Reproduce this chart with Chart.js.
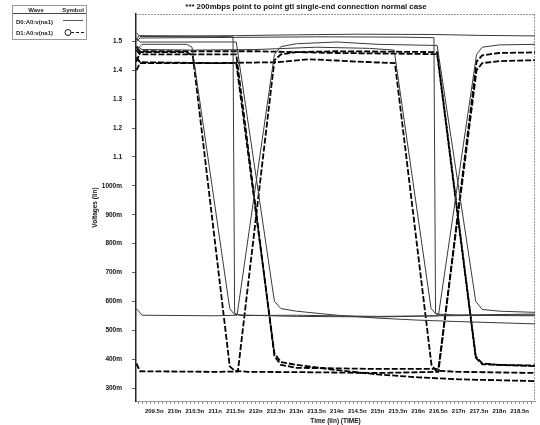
<!DOCTYPE html>
<html>
<head>
<meta charset="utf-8">
<script src="https://cdn.jsdelivr.net/npm/chart.js@4.4.1/dist/chart.umd.min.js"></script>
<style>
  html, body { margin: 0; padding: 0; background: #fff; }
  #wrap { position: relative; width: 540px; height: 425px; }
  #legend { position: absolute; left: 0; top: 0; font-family: "Liberation Sans", Arial, sans-serif; }
</style>
</head>
<body>
<div id="wrap">
  <canvas id="eye" width="540" height="425"></canvas>
  <svg id="legend" width="100" height="45">
    <rect x="12.5" y="5.5" width="74" height="34" fill="none" stroke="#999" stroke-width="1"/>
    <text x="36" y="12" font-size="6" font-weight="bold" text-anchor="middle" fill="#222">Wave</text>
    <text x="73" y="12" font-size="6" font-weight="bold" text-anchor="middle" fill="#222">Symbol</text>
    <line x1="13" y1="13.5" x2="86" y2="13.5" stroke="#444" stroke-width="1"/>
    <text x="16" y="24" font-size="6" font-weight="bold" fill="#222">D0:A0:v(na1)</text>
    <line x1="63" y1="20.5" x2="83" y2="20.5" stroke="#555" stroke-width="1"/>
    <text x="16" y="34.5" font-size="6" font-weight="bold" fill="#222">D1:A0:v(na1)</text>
    <circle cx="68" cy="32.5" r="3" fill="none" stroke="#111" stroke-width="1"/>
    <line x1="71" y1="32.5" x2="84" y2="32.5" stroke="#111" stroke-width="1" stroke-dasharray="3,2"/>
  </svg>
</div>
<script>
// eye diagram: 200mbps gtl, two overlaid runs
const chartTitle = "*** 200mbps point to point gtl single-end connection normal case";

const xTickValues = [209.5, 210, 210.5, 211, 211.5, 212, 212.5, 213, 213.5, 214, 214.5, 215, 215.5, 216, 216.5, 217, 217.5, 218, 218.5];
const xTickLabels = ["209.5n", "210n", "210.5n", "211n", "211.5n", "212n", "212.5n", "213n", "213.5n", "214n", "214.5n", "215n", "215.5n", "216n", "216.5n", "217n", "217.5n", "218n", "218.5n"];
const yTickValues = [0.3, 0.4, 0.5, 0.6, 0.7, 0.8, 0.9, 1.0, 1.1, 1.2, 1.3, 1.4, 1.5];
const yTickLabels = ["300m", "400m", "500m", "600m", "700m", "800m", "900m", "1000m", "1.1", "1.2", "1.3", "1.4", "1.5"];

// D0 traces (time ns, volts)
const d0Hold = [[209.06,1.505],[209.12,1.52],[210.5,1.519],[211.5,1.52],[213,1.523],[214.5,1.525],[216.4,1.524],[217.5,1.521],[218.88,1.519]];
const d0DropT1 = [[209.06,1.53],[209.15,1.517],[211.0,1.518],[211.44,1.516],[211.48,0.56],[211.6,0.551],[213,0.552],[215,0.548],[216.5,0.55],[218.88,0.553]];
const d0DropT2 = [[209.06,1.50],[209.15,1.512],[211.5,1.514],[213.5,1.516],[215.5,1.515],[216.39,1.513],[216.43,0.56],[216.55,0.552],[218.88,0.556]];
const d0SlowRise = [[209.06,1.47],[209.2,1.49],[210.3,1.49],[210.43,1.48],[211.36,0.575],[211.47,0.555],[211.8,0.552],[213,0.548],[215,0.546],[216.5,0.55],[217.44,1.455],[217.58,1.48],[218,1.488],[218.88,1.49]];
const d0RiseFast = [[209.06,0.575],[209.2,0.552],[211.0,0.55],[211.54,0.552],[212.46,1.455],[212.62,1.482],[213,1.492],[214,1.498],[215,1.49],[216.47,1.486],[217.42,0.6],[217.58,0.572],[218,0.566],[218.88,0.562]];
const d0FastSag = [[209.06,1.51],[209.15,1.498],[211.52,1.498],[212.46,0.6],[212.62,0.575],[213,0.566],[214,0.552],[215,0.542],[216,0.535],[217,0.53],[218.88,0.522]];
const d0SlowT2 = [[209.06,1.485],[209.2,1.472],[210.5,1.47],[212,1.472],[213.5,1.48],[214.8,1.476],[215.41,1.47],[216.32,0.575],[216.44,0.556],[217,0.552],[218.88,0.55]];

// D1 traces
const d1SlowRise = [[209.06,1.43],[209.15,1.463],[210.3,1.463],[210.45,1.45],[211.36,0.375],[211.48,0.36],[211.8,0.356],[213,0.355],[215,0.352],[216.5,0.356],[217.44,1.43],[217.58,1.452],[218,1.46],[218.88,1.462]];
const d1RiseFast = [[209.06,0.385],[209.15,0.358],[211.0,0.356],[211.56,0.357],[212.46,1.435],[212.62,1.455],[213,1.463],[214,1.466],[215,1.465],[216.47,1.463],[217.42,0.41],[217.58,0.385],[218,0.38],[218.88,0.378]];
const d1FastSag = [[209.06,1.40],[209.15,1.425],[211.52,1.425],[212.46,0.42],[212.62,0.39],[213,0.38],[214,0.362],[215,0.347],[216,0.337],[217,0.33],[218.88,0.324]];
const d1SlowT2 = [[209.06,1.445],[209.15,1.428],[211,1.425],[212.5,1.428],[213.3,1.438],[214,1.434],[214.5,1.43],[215.43,1.425],[216.33,0.38],[216.44,0.36],[217,0.356],[218.88,0.352]];
const d1FastRise = [[209.06,1.47],[209.15,1.455],[211.52,1.455],[212.46,0.41],[212.62,0.38],[213,0.37],[215,0.366],[216.5,0.366],[217.44,1.4],[217.58,1.425],[218,1.432],[218.88,1.435]];
const d1FastT2 = [[209.06,1.48],[209.15,1.466],[212,1.466],[214,1.46],[216.47,1.456],[217.42,0.405],[217.58,0.382],[218.88,0.376]];

const d0Traces = [d0Hold, d0DropT1, d0DropT2, d0SlowRise, d0RiseFast, d0FastSag, d0SlowT2];
const d1Traces = [d1SlowRise, d1RiseFast, d1FastSag, d1SlowT2, d1FastRise, d1FastT2];

const toXY = (tr) => tr.map(p => ({ x: p[0], y: p[1] }));

const datasets = [];
d0Traces.forEach(tr => datasets.push({
    label: "D0:A0:v(na1)",
    data: toXY(tr),
    borderColor: "#3a3a3a",
    borderWidth: 1,
    pointRadius: 0,
    tension: 0,
}));
d1Traces.forEach(tr => datasets.push({
    label: "D1:A0:v(na1)",
    data: toXY(tr),
    borderColor: "#000",
    borderWidth: 1.8,
    borderDash: [6, 2],
    pointRadius: 0,
    tension: 0,
}));

// frame on top/right + title text
const framePlugin = {
    id: "frame",
    beforeDatasetsDraw(chart) {
        const { ctx, chartArea: a } = chart;
        ctx.save();
        ctx.strokeStyle = "#999";
        ctx.lineWidth = 1;
        ctx.setLineDash([2, 1]);
        ctx.beginPath();
        ctx.moveTo(a.left, a.top + 0.5);
        ctx.lineTo(a.right, a.top + 0.5);
        ctx.moveTo(a.right - 0.5, a.top);
        ctx.lineTo(a.right - 0.5, a.bottom);
        ctx.stroke();
        ctx.restore();
    },
    afterDraw(chart) {
        const ctx = chart.ctx;
        ctx.save();
        ctx.fillStyle = "#111";
        ctx.font = "bold 7.8px 'Liberation Sans', Arial, sans-serif";
        ctx.textAlign = "center";
        ctx.textBaseline = "middle";
        ctx.fillText(chartTitle, 306, 7);
        ctx.restore();
    }
};

new Chart(document.getElementById("eye"), {
    type: "line",
    data: { datasets: datasets },
    options: {
        responsive: false,
        animation: false,
        layout: { padding: { left: 91, right: 5, top: 14, bottom: 0 } },
        plugins: {
            legend: { display: false },
            tooltip: { enabled: false },
        },
        scales: {
            x: {
                type: "linear",
                min: 209.05,
                max: 218.88,
                afterBuildTicks: (s) => {
                    const t = [];
                    for (let k = 2091; k <= 2188; k++) t.push({ value: k / 10 });
                    s.ticks = t;
                },
                afterFit: (s) => { s.height = 24; },
                ticks: {
                    autoSkip: false,
                    maxRotation: 0,
                    padding: 4,
                    color: "#111",
                    font: { family: "'Liberation Sans', Arial, sans-serif", size: 6, weight: "bold" },
                    callback: (v) => {
                        const i = xTickValues.findIndex(a => Math.abs(a - v) < 1e-6);
                        return i < 0 ? "" : xTickLabels[i];
                    },
                },
                grid: { drawOnChartArea: false, tickLength: 3, color: "#888" },
                border: { color: "#999", dash: [2, 1] },
                title: {
                    display: true,
                    text: "Time (lin) (TIME)",
                    color: "#111",
                    padding: 0,
                    font: { family: "'Liberation Sans', Arial, sans-serif", size: 6.5, weight: "bold" },
                },
            },
            y: {
                type: "linear",
                min: 0.255,
                max: 1.595,
                afterBuildTicks: (s) => { s.ticks = yTickValues.map(v => ({ value: v })); },
                afterFit: (s) => { s.width = 45; },
                ticks: {
                    padding: 10,
                    color: "#111",
                    font: { family: "'Liberation Sans', Arial, sans-serif", size: 6.5, weight: "bold" },
                    callback: (v) => {
                        const i = yTickValues.findIndex(a => Math.abs(a - v) < 1e-6);
                        return i < 0 ? "" : yTickLabels[i];
                    },
                },
                grid: { drawOnChartArea: false, tickLength: 4, color: "#666" },
                border: { color: "#222", width: 1.5 },
                title: {
                    display: true,
                    text: "Voltages (lin)",
                    color: "#111",
                    padding: 0,
                    font: { family: "'Liberation Sans', Arial, sans-serif", size: 6.5, weight: "bold" },
                },
            },
        },
    },
    plugins: [framePlugin],
});
</script>
</body>
</html>
